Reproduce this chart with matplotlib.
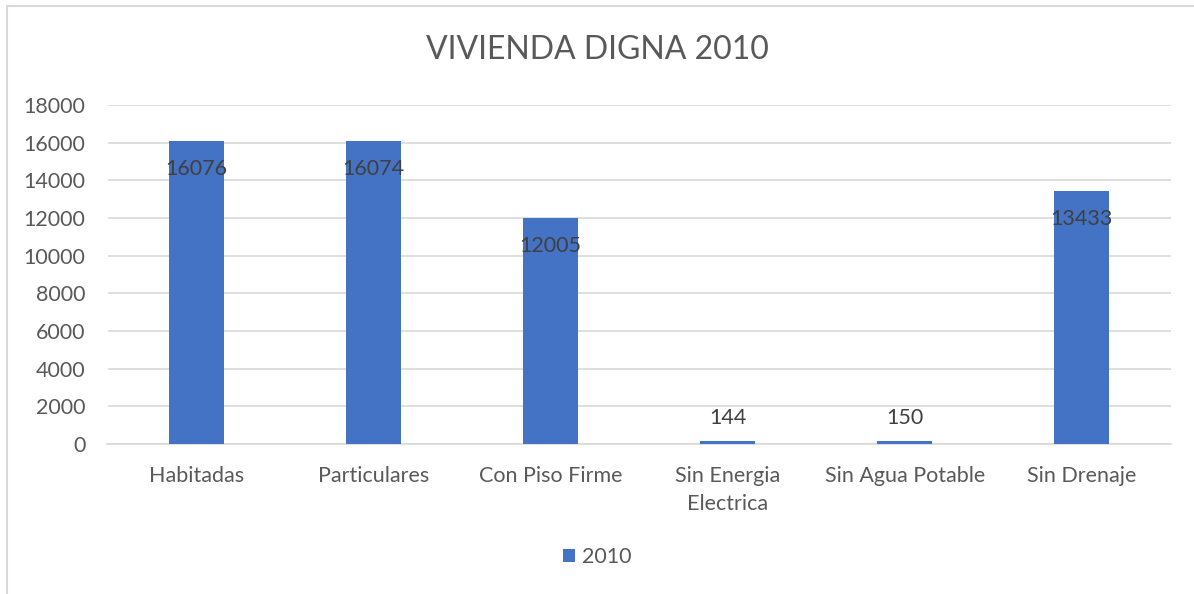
import matplotlib.pyplot as plt
from matplotlib.patches import Rectangle

categories = ["Habitadas", "Particulares", "Con Piso Firme", "Sin Energia\nElectrica",
              "Sin Agua Potable", "Sin Drenaje"]
values_2010 = [16076, 16074, 12005, 144, 150, 13433]
y_ticks = [0, 2000, 4000, 6000, 8000, 10000, 12000, 14000, 16000, 18000]

bar_color = "#4472C4"
text_color = "#595959"
grid_color = "#D9D9D9"

plt.rcParams['font.family'] = ['Lato', 'DejaVu Sans']

fig = plt.figure(figsize=(11.94, 5.94), dpi=100)
# outer chart border (cropped on the right and bottom like the original)
fig.patches.append(Rectangle((7 / 1194, -0.05), 1.2, 1 - 6 / 594 + 0.05,
                             transform=fig.transFigure, fill=False,
                             edgecolor=grid_color, linewidth=1.5))

ax = fig.add_axes([107.5 / 1194, 1 - 444 / 594, (1170.5 - 107.5) / 1194, (444 - 105) / 594])
x = list(range(len(categories)))
bars = ax.bar(x, values_2010, width=0.31, color=bar_color, label="2010", zorder=3)

ax.set_xlim(-0.5, len(categories) - 0.5)
ax.set_ylim(0, 18000)
ax.set_yticks(y_ticks)
ax.set_yticklabels([str(t) for t in y_ticks])
ax.set_xticks(x)
ax.set_xticklabels(categories, linespacing=1.5)
ax.tick_params(axis="both", length=0, colors=text_color, labelsize=15.5)
ax.tick_params(axis="y", pad=16)
ax.tick_params(axis="x", pad=16)
ax.grid(axis="y", color=grid_color, linewidth=1.2, zorder=0)
for s in ["top", "right", "left"]:
    ax.spines[s].set_visible(False)
ax.spines["bottom"].set_color(grid_color)
ax.spines["bottom"].set_linewidth(1.2)

for b, v in zip(bars, values_2010):
    if v > 1000:
        ax.annotate(str(v), (b.get_x() + b.get_width() / 2, v), xytext=(0, -20),
                    textcoords="offset points", ha="center", va="center",
                    fontsize=15.5, color="#404040", zorder=4)
    else:
        ax.annotate(str(v), (b.get_x() + b.get_width() / 2, v), xytext=(0, 17),
                    textcoords="offset points", ha="center", va="center",
                    fontsize=15.5, color="#404040", zorder=4)

fig.text(0.5, 1 - 50 / 594, "VIVIENDA DIGNA 2010", ha="center", va="center",
         fontsize=23, color=text_color)

fig.legend(handles=[bars], labels=["2010"], loc="center", bbox_to_anchor=(0.5, 1 - 557 / 594),
           frameon=False, fontsize=15.5, labelcolor=text_color, handlelength=0.6,
           handleheight=0.6, handletextpad=0.3)

fig.savefig("out.png", dpi=100)
